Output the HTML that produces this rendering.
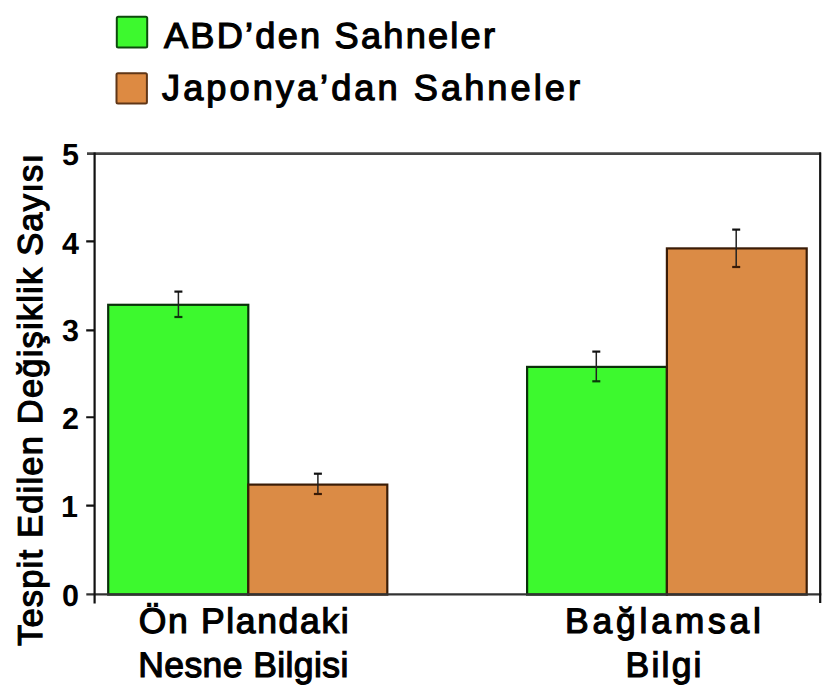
<!DOCTYPE html>
<html><head><meta charset="utf-8">
<style>
html,body{margin:0;padding:0;background:#fff;width:825px;height:694px;overflow:hidden}
svg{display:block}
text{font-family:"Liberation Sans",sans-serif;fill:#000;text-rendering:geometricPrecision}
.t{stroke:#000;stroke-width:1.2}
</style></head>
<body>
<svg width="825" height="694" viewBox="0 0 825 694">
<!-- legend -->
<rect x="116.8" y="16.8" width="30.4" height="30.6" rx="1.5" fill="#3df92e" stroke="#0d4a0d" stroke-width="2"/>
<rect x="116.5" y="73.2" width="30.4" height="30.4" rx="1.5" fill="#dd8a42" stroke="#603616" stroke-width="2"/>
<text class="t" x="164" y="47.7" font-size="36.2" textLength="331" lengthAdjust="spacing">ABD’den Sahneler</text>
<text class="t" x="162" y="100.4" font-size="36.2" textLength="418" lengthAdjust="spacing">Japonya’dan Sahneler</text>

<!-- bars -->
<rect x="108.2" y="304.8" width="140.1" height="289.8" fill="#3df92e" stroke="#0a300a" stroke-width="2.2"/>
<rect x="248.3" y="484.6" width="139" height="110" fill="#db8b45" stroke="#3a1c06" stroke-width="2.2"/>
<rect x="527.1" y="366.9" width="139.8" height="227.7" fill="#3df92e" stroke="#0a300a" stroke-width="2.2"/>
<rect x="666.9" y="248.4" width="139.8" height="346.2" fill="#db8b45" stroke="#3a1c06" stroke-width="2.2"/>

<!-- error bars -->
<g stroke="#222" stroke-width="1.5" fill="none">
<path d="M178.4 291.5V317.1"/>
<path d="M317.9 473.6V494.1"/>
<path d="M596.3 351.5V381.4"/>
<path d="M736.2 229.5V267.1"/>
</g>
<g stroke="#111" stroke-width="2.2" fill="none">
<path d="M174.4 291.6h8"/><path d="M174.4 317h8" stroke="#0a3a0a"/>
<path d="M313.9 473.7h8"/><path d="M313.9 494h8" stroke="#3a1a05"/>
<path d="M592.3 351.6h8"/><path d="M592.3 381.3h8" stroke="#0a3a0a"/>
<path d="M732.2 229.6h8"/><path d="M732.2 267h8" stroke="#3a1a05"/>
</g>

<!-- frame -->
<g stroke="#111" stroke-width="2.2" fill="none">
<path d="M87 153.6H821" stroke="#444" stroke-width="2.8"/>
<path d="M86.3 594.4H821.3" stroke="#333" stroke-width="2.4"/>
<path d="M94.6 152.5V603.5"/>
<path d="M820.2 152.5V603"/>
<path d="M86.2 241.35H94.6M86.2 330.4H94.6M86.2 417.25H94.6M86.2 505.7H94.6"/>
</g>

<!-- tick labels -->
<g font-size="30.5" font-weight="bold" text-anchor="end">
<text x="79" y="164.6">5</text>
<text x="79" y="253.5">4</text>
<text x="79" y="340.8">3</text>
<text x="79" y="429.2">2</text>
<text x="78" y="517">1</text>
<text x="79" y="605.5">0</text>
</g>

<!-- y title -->
<text class="t" transform="translate(42.3,646) rotate(-90)" x="0" y="0" font-size="34.5" textLength="492" lengthAdjust="spacing">Tespit Edilen Değişiklik Sayısı</text>

<!-- x labels -->
<text class="t" x="138.7" y="633.2" font-size="35.5" textLength="210" lengthAdjust="spacing">Ön Plandaki</text>
<text class="t" x="138.3" y="676.6" font-size="35.5" textLength="210" lengthAdjust="spacing">Nesne Bilgisi</text>
<text class="t" x="565" y="633.3" font-size="35.5" textLength="196" lengthAdjust="spacing">Bağlamsal</text>
<text class="t" x="625.5" y="677.4" font-size="35.5" textLength="76" lengthAdjust="spacing">Bilgi</text>
</svg>
</body></html>
